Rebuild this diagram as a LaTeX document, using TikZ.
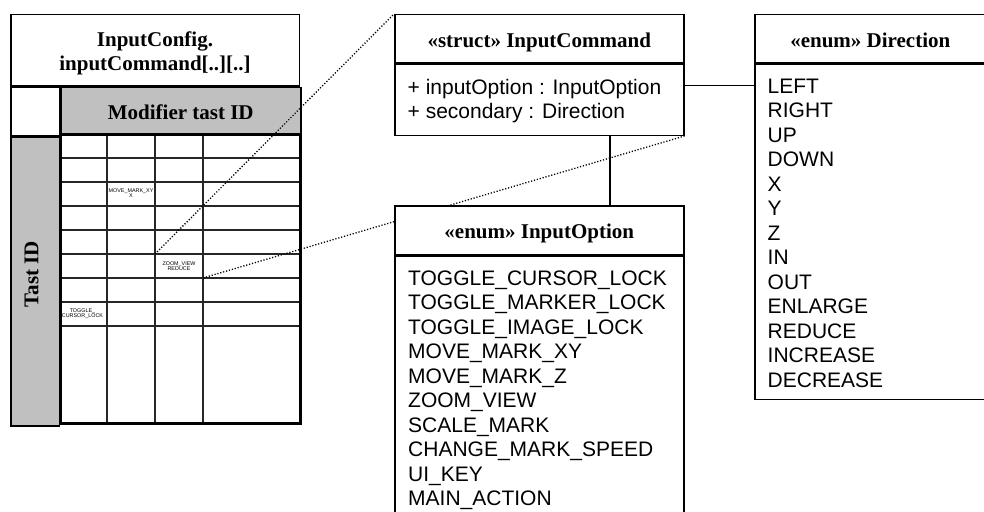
\documentclass[tikz,border=0pt]{standalone}
\usepackage{fontspec}
\setmainfont{Liberation Serif}
\newfontfamily\arialfont{Liberation Sans}
\usetikzlibrary{positioning,calc}

\definecolor{cellgray}{HTML}{C0C0C0}
\pgfdeclarelayer{back}
\pgfsetlayers{back,main}

\tikzset{
  hdr/.style={draw,line width=1.5pt,fill=white,anchor=north west,inner sep=0pt,
    font=\fontsize{21}{24}\selectfont\bfseries,text height=17pt,text depth=0pt},
  bodybox/.style={draw,line width=1.5pt,fill=white,anchor=north west,inner sep=0pt},
  items/.style={anchor=north west,inner sep=0pt,align=left,
    font=\arialfont\fontsize{21}{24.5}\selectfont},
  tinytext/.style={align=center,inner sep=0pt,font=\arialfont\fontsize{5.4}{5}\selectfont},
  gridline/.style={line width=1.1pt,black!85},
  zoomline/.style={line width=1.3pt,dash pattern=on 1.2pt off 1.8pt},
  link/.style={line width=1.5pt},
}

\begin{document}
\begin{tikzpicture}[x=1pt,y=-1pt]
\useasboundingbox (0,0) rectangle (984,511);

% left table
\begin{pgfonlayer}{back}
\node[bodybox,minimum width=288.5pt,minimum height=71pt] (cfghead) at (10,14) {};
\node[anchor=north,inner sep=0pt,align=center,font=\fontsize{21}{23.5}\selectfont\bfseries]
  (cfgtitle) at ([yshift=-18pt]cfghead.north) {InputConfig.\\inputCommand[..][..]};
\node[bodybox,minimum width=48.5pt,minimum height=48pt] (corner) at (cfghead.south west) {};
\node[hdr,fill=cellgray,minimum width=240pt,minimum height=48pt] (modhead) at (corner.north east) {Modifier tast ID};
\node[bodybox,fill=cellgray,minimum width=48.5pt,minimum height=289pt] (tastcol) at (corner.south west) {};
\node[rotate=90,inner sep=0pt,font=\fontsize{21}{24}\selectfont\bfseries] (tastlbl) at (31.5,274) {Tast ID};
\fill[white] (58.5,133) rectangle (298.5,422);
\foreach \y in {158,182,206,230,254,278,302,326}
  \draw[gridline] (58.5,\y) -- (298.5,\y);
\foreach \x in {107,155,203}
  \draw[gridline] (\x,133) -- (\x,422);
\node[draw,line width=3pt,anchor=north west,inner sep=0pt,minimum width=240pt,minimum height=289pt]
  (grid) at (58.5,133) {};
\node[tinytext] (cellmove) at (131,193) {MOVE\_MARK\_XY\\X};
\node[tinytext] (cellzoom) at (179,266) {ZOOM\_VIEW\\REDUCE};
\node[tinytext] (celltoggle) at (82.5,313.5) {TOGGLE\_\\CURSOR\_LOCK};
\coordinate (mvA) at (155,254);
\coordinate (zmB) at (203,278);
\end{pgfonlayer}

% struct InputCommand
\node[hdr,minimum width=289pt,minimum height=48pt] (cmdhead) at (394,14) {«struct» InputCommand};
\node[bodybox,minimum width=289pt,minimum height=71pt] (cmdbody) at (cmdhead.south west) {};
\node[items] (cmdattr) at ([xshift=13.5pt,yshift=-15.5pt]cmdbody.north west)
  {+ inputOption : InputOption\\+ secondary : Direction};

% enum Direction
\node[hdr,minimum width=231pt,minimum height=48pt] (dirhead) at (754,14) {«enum» Direction};
\node[bodybox,minimum width=231pt,minimum height=335pt] (dirbody) at (dirhead.south west) {};
\node[items] (dirlist) at ([xshift=13.5pt,yshift=-15pt]dirbody.north west)
  {LEFT\\RIGHT\\UP\\DOWN\\X\\Y\\Z\\IN\\OUT\\ENLARGE\\REDUCE\\INCREASE\\DECREASE};

% enum InputOption
\node[hdr,minimum width=289pt,minimum height=49pt] (opthead) at (394,205) {«enum» InputOption};
\node[bodybox,minimum width=289pt,minimum height=300pt] (optbody) at (opthead.south west) {};
\node[items] (optlist) at ([xshift=14pt,yshift=-15pt]optbody.north west)
  {TOGGLE\_CURSOR\_LOCK\\TOGGLE\_MARKER\_LOCK\\TOGGLE\_IMAGE\_LOCK\\MOVE\_MARK\_XY\\MOVE\_MARK\_Z\\ZOOM\_VIEW\\SCALE\_MARK\\CHANGE\_MARK\_SPEED\\UI\_KEY\\MAIN\_ACTION};

% links
\draw[link] (cmdbody.north east) ++(0,22) coordinate (cmdport) -- (cmdport -| dirbody.west);
\draw[link] (cmdbody.south west) ++(216,0) coordinate (optport) -- (optport |- opthead.north);
\begin{pgfonlayer}{back}
\draw[zoomline] (mvA) -- (cmdhead.north west);
\draw[zoomline] (zmB) -- (cmdbody.south east);
\end{pgfonlayer}
\end{tikzpicture}
\end{document}
